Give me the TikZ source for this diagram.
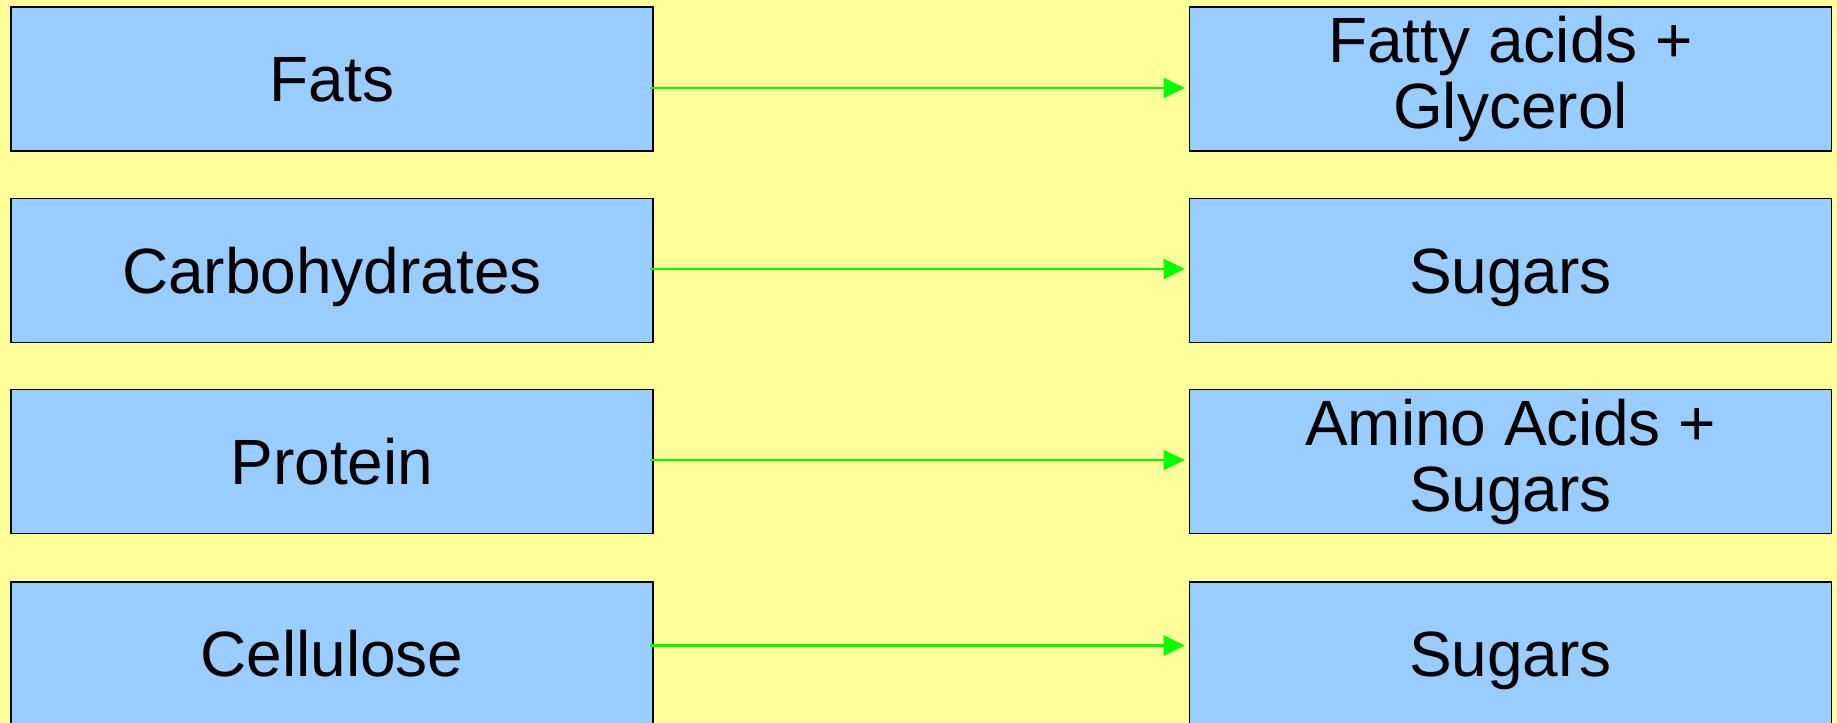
\documentclass[tikz,border=0pt]{standalone}
\usepackage{fontspec}
\setmainfont{Liberation Sans}
\usetikzlibrary{arrows.meta}
\definecolor{bgyellow}{RGB}{255,255,153}
\definecolor{boxblue}{RGB}{153,204,255}
\definecolor{arrgreen}{RGB}{0,255,0}
\begin{document}
\begin{tikzpicture}[x=1pt,y=1pt,
  box/.style={draw=black,line width=1.7pt,fill=boxblue,minimum width=642pt,minimum height=144pt,
    inner sep=0pt,align=center,font=\fontsize{64}{66}\selectfont},
  oneline/.style={text height=46pt,text depth=0pt},
  arr/.style={draw=arrgreen,line width=2.2pt,-{Triangle[length=21pt,width=20pt]},shorten <=-4pt,shorten >=4pt}]
\useasboundingbox (0,0) rectangle (1837,723);
\fill[bgyellow] (0,0) rectangle (1837,723);
% left column
\node[box,oneline] (L1) at (332,644) {Fats};
\node[box,oneline] (L2) at (332,452.5) {Carbohydrates};
\node[box,oneline] (L3) at (332,261.5) {Protein};
\node[box,oneline] (L4) at (332,69) {Cellulose};
% right column
\node[box] (R1) at (1510.5,644) {Fatty acids +\\Glycerol};
\node[box,oneline] (R2) at (1510.5,452.5) {Sugars};
\node[box] (R3) at (1510.5,261.5) {Amino Acids +\\Sugars};
\node[box,oneline] (R4) at (1510.5,69) {Sugars};
% arrows
\draw[arr] ([yshift=-9pt]L1.east) -- ([yshift=-9pt]R1.west);
\draw[arr] ([yshift=1.5pt]L2.east) -- ([yshift=1.5pt]R2.west);
\draw[arr] ([yshift=1.5pt]L3.east) -- ([yshift=1.5pt]R3.west);
\draw[arr] ([yshift=8.5pt]L4.east) -- ([yshift=8.5pt]R4.west);
\end{tikzpicture}
\end{document}
